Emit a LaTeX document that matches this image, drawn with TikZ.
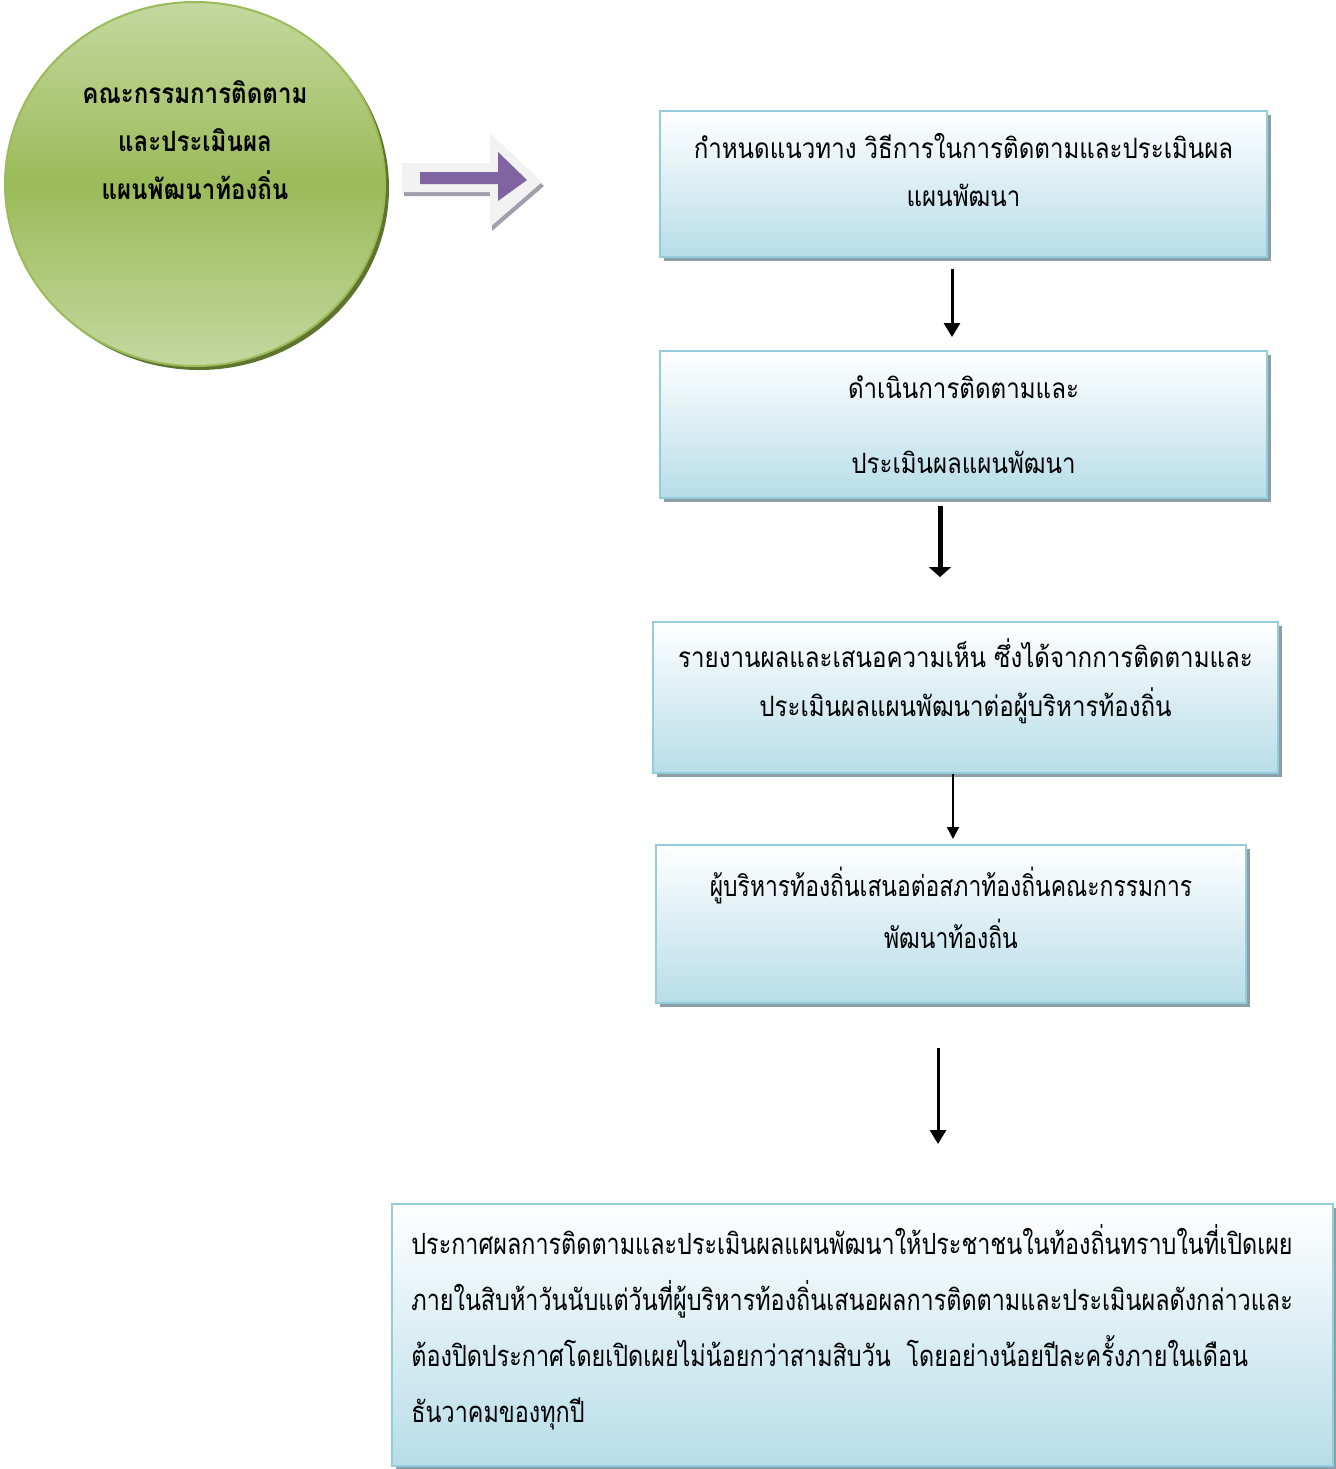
\documentclass[tikz,border=0pt]{standalone}
\usepackage{fontspec}
\newfontfamily\thaifont[Script=Thai,FakeStretch=0.86]{Loma}
\newfontfamily\thaicondensed[Script=Thai,FakeStretch=0.8]{Loma}
\usetikzlibrary{arrows.meta,shadows,shapes.geometric}
\definecolor{leaf-light}{HTML}{C4D89F}
\definecolor{leaf-mid}{HTML}{9BBB59}
\definecolor{leaf-dark}{HTML}{5E7530}
\definecolor{panel-blue}{HTML}{B7DDE8}
\definecolor{panel-edge}{HTML}{93CDDD}
\definecolor{panel-shadow}{HTML}{8C9EA6}
\definecolor{pointer-face}{HTML}{F2F2F2}
\definecolor{pointer-shadow}{HTML}{A39DAD}
\definecolor{pointer-violet}{HTML}{8064A2}

\begin{document}
\begin{tikzpicture}[
    x=0.5pt, y=-0.5pt,
    every node/.style={font=\thaifont},
    seal/.style={
        ellipse, draw=leaf-mid, line width=1pt,
        top color=leaf-light, bottom color=leaf-light, middle color=leaf-mid,
        drop shadow={shadow xshift=2pt, shadow yshift=-2pt, fill=leaf-dark, opacity=1},
    },
    panel/.style={
        rectangle, draw=panel-edge, line width=1pt,
        top color=white, bottom color=panel-blue,
        drop shadow={shadow xshift=2pt, shadow yshift=-2pt, fill=panel-shadow, opacity=1},
    },
    caption/.style={align=center, inner sep=0pt},
    flow/.style={draw=black, line width=1.5pt, -{Triangle[width=8pt,length=7pt]}},
]
\useasboundingbox (0,0) rectangle (1335,1469);

% committee
\node[seal, minimum width=190pt, minimum height=182pt] (seal) at (195,184) {};
\node[caption, font=\thaifont\bfseries\fontsize{14}{24}\selectfont] (sealtext)
    at ([yshift=22pt]seal.center)
    {คณะกรรมการติดตาม\\และประเมินผล\\แผนพัฒนาท้องถิ่น};

% block arrow
\fill[pointer-shadow, xshift=1pt, yshift=-2pt]
    (402,163) -- (490,163) -- (490,133) -- (542,182) -- (490,227) -- (490,192) -- (402,192) -- cycle;
\fill[pointer-face]
    (402,163) -- (490,163) -- (490,133) -- (542,182) -- (490,227) -- (490,192) -- (402,192) -- cycle;
\fill[pointer-violet]
    (420,172) -- (498,172) -- (498,152) -- (527,180) -- (498,201) -- (498,184) -- (420,184) -- cycle;

% steps
\node[panel, minimum width=303.5pt, minimum height=73pt] (b1) at (963.5,184) {};
\node[panel, minimum width=303.5pt, minimum height=73.5pt] (b2) at (963.5,424.5) {};
\node[panel, minimum width=312.5pt, minimum height=75.5pt] (b3) at (965.5,697.5) {};
\node[panel, minimum width=295pt, minimum height=79pt] (b4) at (951,924) {};
\node[panel, minimum width=470.5pt, minimum height=131pt] (b5) at (862.5,1335) {};

\node[caption, font=\thaifont\fontsize{14}{24}\selectfont] (t1) at ([yshift=7pt]b1.center)
    {กำหนดแนวทาง วิธีการในการติดตามและประเมินผล\\แผนพัฒนา};
\node[caption, font=\thaifont\fontsize{14}{37.5}\selectfont] (t2) at (b2.center)
    {ดำเนินการติดตามและ\\ประเมินผลแผนพัฒนา};
\node[caption, font=\thaifont\fontsize{14}{24.5}\selectfont] (t3) at ([yshift=8.25pt]b3.center)
    {รายงานผลและเสนอความเห็น ซึ่งได้จากการติดตามและ\\ประเมินผลแผนพัฒนาต่อผู้บริหารท้องถิ่น};
\node[caption, font=\thaicondensed\fontsize{14.3}{26}\selectfont] (t4) at ([yshift=8pt]b4.center)
    {ผู้บริหารท้องถิ่นเสนอต่อสภาท้องถิ่นคณะกรรมการ\\พัฒนาท้องถิ่น};
\node[caption, align=left, anchor=west, font=\thaicondensed\fontsize{14.6}{28}\selectfont] (t5)
    at ([xshift=10pt,yshift=4pt]b5.west)
    {ประกาศผลการติดตามและประเมินผลแผนพัฒนาให้ประชาชนในท้องถิ่นทราบในที่เปิดเผย\\
     ภายในสิบห้าวันนับแต่วันที่ผู้บริหารท้องถิ่นเสนอผลการติดตามและประเมินผลดังกล่าวและ\\
     ต้องปิดประกาศโดยเปิดเผยไม่น้อยกว่าสามสิบวัน\ \ โดยอย่างน้อยปีละครั้งภายในเดือน\\
     ธันวาคมของทุกปี};

% connectors
\draw[flow, shorten <=5.5pt, shorten >=6.5pt]
    ([xshift=-5.75pt]b1.south) -- ([xshift=-5.75pt]b1.south |- b2.north);
\draw[flow, line width=2.5pt, -{Triangle[width=11pt,length=5pt]}, shorten <=3.5pt, shorten >=22pt]
    ([xshift=-11.75pt]b2.south) -- ([xshift=-11.75pt]b2.south |- b3.north);
\draw[flow, line width=1pt, -{Triangle[width=6pt,length=6pt]}, shorten >=2.5pt]
    ([xshift=-6.25pt]b3.south) -- ([xshift=-6.25pt]b3.south |- b4.north);
\draw[flow, shorten <=22pt, shorten >=29.5pt]
    ([xshift=-6.5pt]b4.south) -- ([xshift=-6.5pt]b4.south |- b5.north);
\end{tikzpicture}
\end{document}
